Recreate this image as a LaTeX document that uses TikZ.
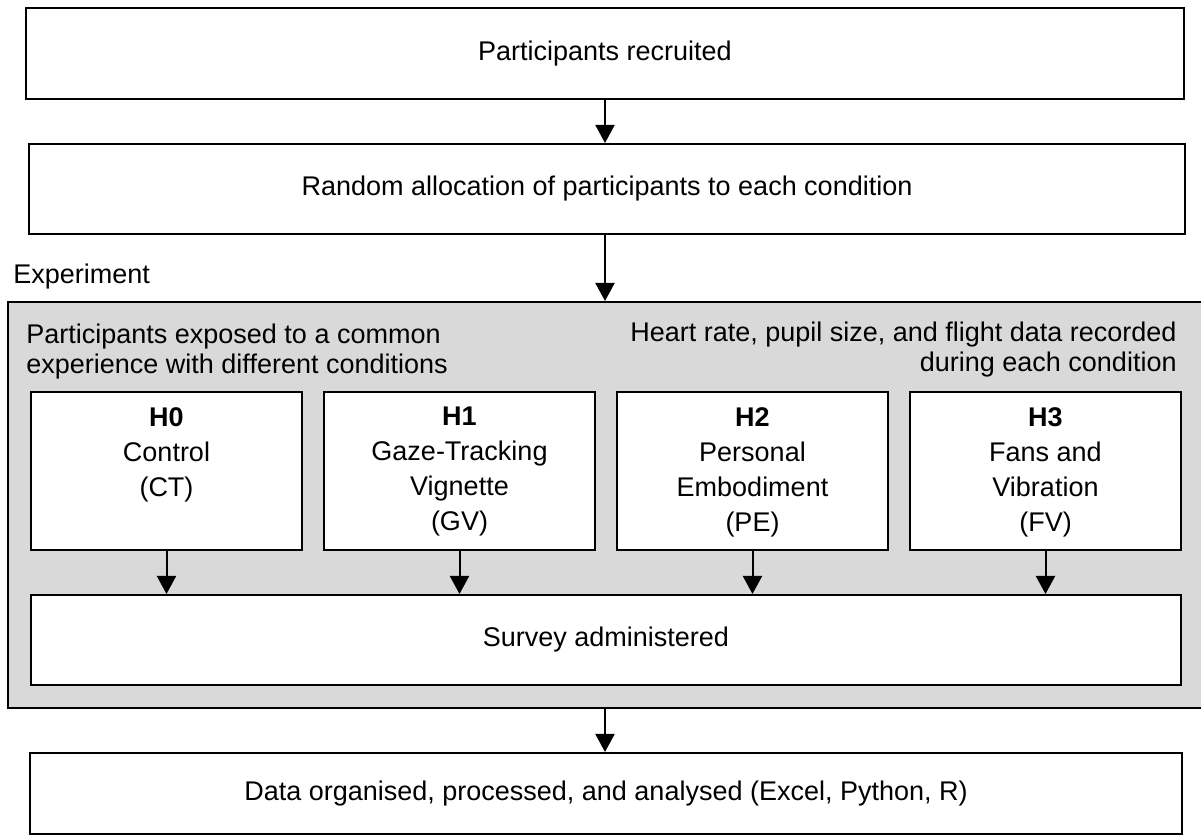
\documentclass[tikz,border=0pt]{standalone}
\usepackage{fontspec}
\setmainfont{Liberation Sans}
\usetikzlibrary{arrows.meta,positioning}
\definecolor{expgray}{HTML}{D9D9D9}
\tikzset{
    box/.style={draw, line width=1pt, fill=white, inner sep=0pt},
    arr/.style={line width=1pt, -{Triangle[length=9pt,width=9.5pt]}},
    txt/.style={font=\fontsize{13.5}{15}\selectfont, inner sep=0pt},
    condtext/.style={font=\fontsize{13.5}{17.5}\selectfont, inner sep=0pt, align=center, anchor=north}
}
\begin{document}
\begin{tikzpicture}[x=0.5pt, y=-0.5pt]
                \useasboundingbox (0,0) rectangle (1201,839);
                \node (recruit) at (605,53.5) [box, minimum width=579pt, minimum height=45.5pt, txt] {Participants recruited};
                \node (alloc) at (607,189) [box, minimum width=578pt, minimum height=45pt, txt] {Random allocation of participants to each condition};
                \node (exp) at (606,505) [draw, line width=1pt, fill=expgray, minimum width=598pt, minimum height=203pt, inner sep=0pt] {};
                \node (explabel) at (13,290) [txt, anchor=south west] {Experiment};
                \node (exposed) at (26,324) [txt, anchor=north west, align=left] {Participants exposed to a common\\experience with different conditions};
                \node (recorded) at (1177,322) [txt, anchor=north east, align=right] {Heart rate, pupil size, and flight data recorded\\during each condition};
                \node (h0) at (166.5,471) [box, minimum width=135.5pt, minimum height=79pt] {};
                \node (h1) at (459.5,471) [box, minimum width=135.5pt, minimum height=79pt] {};
                \node (h2) at (752.5,471) [box, minimum width=135.5pt, minimum height=79pt] {};
                \node (h3) at (1045.5,471) [box, minimum width=135.5pt, minimum height=79pt] {};
                \node (h0t) at ([yshift=-8pt]h0.north) [condtext] {\textbf{H0}\\Control\\(CT)};
                \node (h1t) at ([yshift=-8pt]h1.north) [condtext] {\textbf{H1}\\Gaze-Tracking\\Vignette\\(GV)};
                \node (h2t) at ([yshift=-8pt]h2.north) [condtext] {\textbf{H2}\\Personal\\Embodiment\\(PE)};
                \node (h3t) at ([yshift=-8pt]h3.north) [condtext] {\textbf{H3}\\Fans and\\Vibration\\(FV)};
                \node (survey) at (606,640) [box, minimum width=575pt, minimum height=45pt, txt] {Survey administered};
                \node (data) at (606,793.5) [box, minimum width=576pt, minimum height=40.5pt, txt] {Data organised, processed, and analysed (Excel, Python, R)};
                \draw (recruit.south)--(recruit.south |- alloc.north) [arr];
                \draw (alloc.south -| recruit.south)--(recruit.south |- exp.north) [arr];
                \foreach \h in {h0, h1, h2, h3}
                    \draw (\h.south)--(\h.south |- survey.north) [arr];
                \draw (exp.south -| recruit.south)--(recruit.south |- data.north) [arr];
            \end{tikzpicture}
\end{document}
